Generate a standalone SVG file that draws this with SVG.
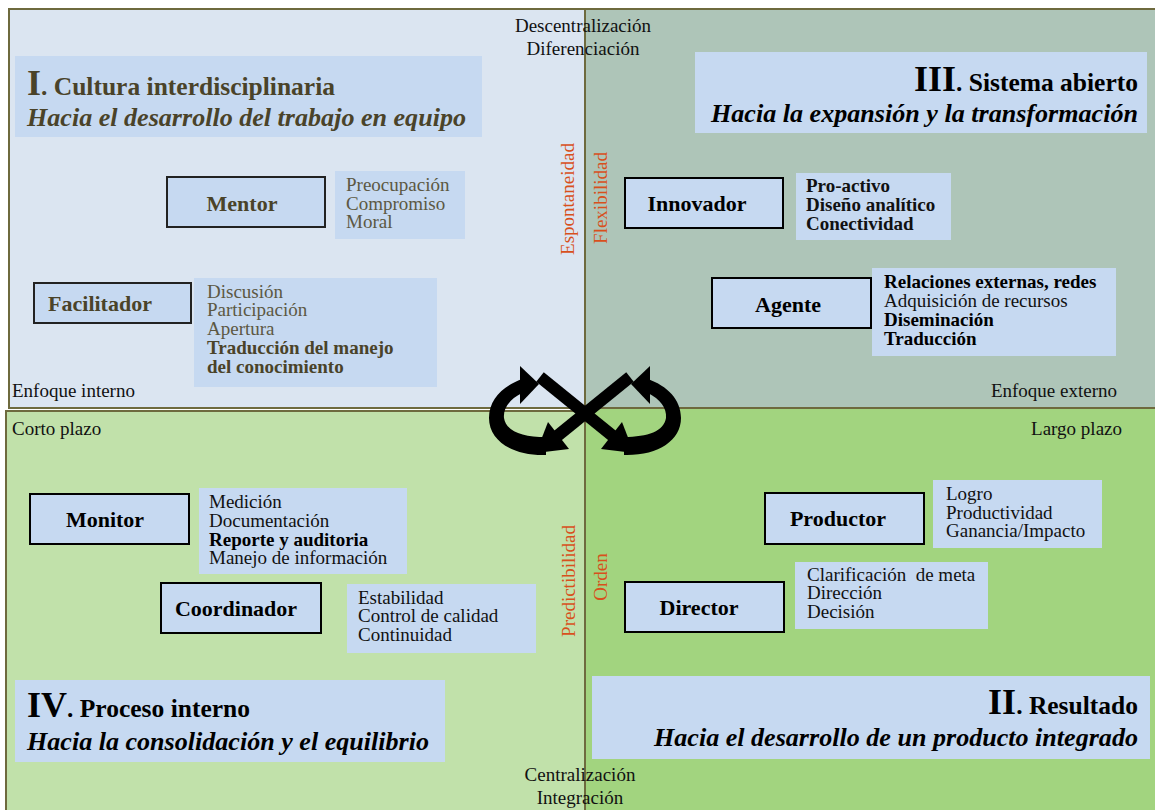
<svg xmlns="http://www.w3.org/2000/svg" width="1155" height="810" viewBox="0 0 1155 810">
<style>
text{font-family:"Liberation Serif","Times New Roman",serif;}
.quad{stroke:#6e6a3e;stroke-width:2;}
.tbox{fill:#c6d9f1;}
.node{fill:#c6d9f1;stroke:#000;stroke-width:2;}
.nl{font-size:22px;font-weight:bold;text-anchor:middle;fill:#000;}
.d{font-size:19px;fill:#111;}
.b{font-weight:bold;}
.ax{font-size:19px;fill:#111;}
.vr{font-size:19px;fill:#d8501c;text-anchor:middle;}
.q1{fill:#4a4329;}
.q1d{fill:#5c5843;}
.rn{font-size:36px;font-weight:bold;}
.tt{font-size:25.5px;font-weight:bold;}
.st{font-size:26px;font-weight:bold;font-style:italic;}
.arr{fill:#000;}
</style>
<g id="quadrants">
<rect id="q1" class="quad" x="9" y="9" width="576" height="399" fill="#dbe5f1"/>
<rect id="q3" class="quad" x="585" y="9" width="572" height="399" fill="#aec5b8"/>
<rect id="q4" class="quad" x="6" y="411" width="579" height="402" fill="#c1e1aa"/>
<rect id="q2" class="quad" x="585" y="408" width="572" height="405" fill="#a2d47f"/>
</g>
<g id="axis-labels">
<text class="ax" x="583" y="32" text-anchor="middle">Descentralización</text>
<text class="ax" x="583" y="55" text-anchor="middle">Diferenciación</text>
<text class="ax" x="580" y="781" text-anchor="middle">Centralización</text>
<text class="ax" x="580" y="804" text-anchor="middle">Integración</text>
<text class="ax" x="12" y="397">Enfoque interno</text>
<text class="ax" x="1117" y="397" text-anchor="end">Enfoque externo</text>
<text class="ax" x="12" y="435">Corto plazo</text>
<text class="ax" x="1122" y="435" text-anchor="end">Largo plazo</text>
<text class="vr" transform="translate(574,199) rotate(-90)">Espontaneidad</text>
<text class="vr" transform="translate(607,198) rotate(-90)">Flexibilidad</text>
<text class="vr" transform="translate(575,581) rotate(-90)">Predictibilidad</text>
<text class="vr" transform="translate(607,577) rotate(-90)">Orden</text>
</g>
<g id="title-I">
<rect class="tbox" x="15" y="56" width="467" height="81"/>
<text x="27" y="95" class="q1"><tspan class="rn">I</tspan><tspan class="tt">. Cultura interdisciplinaria</tspan></text>
<text x="27" y="126" class="st q1" textLength="439" lengthAdjust="spacingAndGlyphs">Hacia el desarrollo del trabajo en equipo</text>
</g>
<g id="title-III">
<rect class="tbox" x="695" y="52" width="452" height="81"/>
<text x="1138" y="91" text-anchor="end" fill="#000"><tspan class="rn">III</tspan><tspan class="tt">. Sistema abierto</tspan></text>
<text x="711" y="122" class="st" fill="#000" textLength="427" lengthAdjust="spacingAndGlyphs">Hacia la expansión y la transformación</text>
</g>
<g id="title-IV">
<rect class="tbox" x="15" y="680" width="430" height="82"/>
<text x="27" y="717" fill="#000"><tspan class="rn">IV</tspan><tspan class="tt">. Proceso interno</tspan></text>
<text x="27" y="750" class="st" fill="#000" textLength="402" lengthAdjust="spacingAndGlyphs">Hacia la consolidación y el equilibrio</text>
</g>
<g id="title-II">
<rect class="tbox" x="592" y="676" width="558" height="83"/>
<text x="1138" y="714" text-anchor="end" fill="#000"><tspan class="rn">II</tspan><tspan class="tt">. Resultado</tspan></text>
<text x="654" y="746" class="st" fill="#000" textLength="484" lengthAdjust="spacingAndGlyphs">Hacia el desarrollo de un producto integrado</text>
</g>
<g id="mentor">
<rect class="node" x="167" y="177" width="158" height="50" style="stroke:#222"/>
<text class="nl q1" x="242" y="211">Mentor</text>
<rect class="tbox" x="335" y="171" width="130" height="68"/>
<text class="d q1d"><tspan x="346" y="191">Preocupación</tspan><tspan x="346" y="210">Compromiso</tspan><tspan x="346" y="228">Moral</tspan></text>
</g>
<g id="facilitador">
<rect class="node" x="34" y="283" width="157" height="40" style="stroke:#222"/>
<text class="nl q1" x="100" y="311">Facilitador</text>
<rect class="tbox" x="194" y="278" width="243" height="109"/>
<text class="d q1d"><tspan x="207" y="298">Discusión</tspan><tspan x="207" y="316">Participación</tspan><tspan x="207" y="335">Apertura</tspan><tspan x="207" y="354" class="b q1">Traducción del manejo</tspan><tspan x="207" y="373" class="b q1">del conocimiento</tspan></text>
</g>
<g id="innovador">
<rect class="node" x="625" y="178" width="158" height="50"/>
<text class="nl" x="697" y="211">Innovador</text>
<rect class="tbox" x="796" y="173" width="155" height="67"/>
<text class="d b" fill="#000"><tspan x="806" y="192">Pro-activo</tspan><tspan x="806" y="211">Diseño analítico</tspan><tspan x="806" y="230">Conectividad</tspan></text>
</g>
<g id="agente">
<rect class="node" x="712" y="278" width="159" height="50"/>
<text class="nl" x="788" y="312">Agente</text>
<rect class="tbox" x="872" y="268" width="244" height="88"/>
<text class="d"><tspan x="884" y="288" class="b" fill="#000">Relaciones externas, redes</tspan><tspan x="884" y="307">Adquisición de recursos</tspan><tspan x="884" y="326" class="b" fill="#000">Diseminación</tspan><tspan x="884" y="345" class="b" fill="#000">Traducción</tspan></text>
</g>
<g id="monitor">
<rect class="node" x="30" y="494" width="159" height="50"/>
<text class="nl" x="105" y="527">Monitor</text>
<rect class="tbox" x="199" y="488" width="208" height="86"/>
<text class="d"><tspan x="209" y="508">Medición</tspan><tspan x="209" y="527">Documentación</tspan><tspan x="209" y="546" class="b" fill="#000">Reporte y auditoria</tspan><tspan x="209" y="564">Manejo de información</tspan></text>
</g>
<g id="coordinador">
<rect class="node" x="161" y="583" width="160" height="50"/>
<text class="nl" x="236" y="616">Coordinador</text>
<rect class="tbox" x="347" y="584" width="189" height="69"/>
<text class="d"><tspan x="358" y="604">Estabilidad</tspan><tspan x="358" y="622">Control de calidad</tspan><tspan x="358" y="641">Continuidad</tspan></text>
</g>
<g id="productor">
<rect class="node" x="765" y="493" width="159" height="51"/>
<text class="nl" x="838" y="526">Productor</text>
<rect class="tbox" x="933" y="480" width="169" height="68"/>
<text class="d"><tspan x="946" y="500">Logro</tspan><tspan x="946" y="519">Productividad</tspan><tspan x="946" y="537">Ganancia/Impacto</tspan></text>
</g>
<g id="director">
<rect class="node" x="625" y="582" width="159" height="50"/>
<text class="nl" x="699" y="615">Director</text>
<rect class="tbox" x="795" y="562" width="193" height="67"/>
<text class="d"><tspan x="807" y="581" xml:space="preserve">Clarificación  de meta</tspan><tspan x="807" y="599">Dirección</tspan><tspan x="807" y="618">Decisión</tspan></text>
</g>
<g id="connectors">
<g id="cycle-left">
<path class="arr" d="M546 455 C513 456 489 441 489 418 C489 399 503 386 522 379 L522 393 C510 399 503 408 504 418 C506 431 522 437 546 437 Z"/>
<polygon class="arr" points="520,366 539,384 520,404"/>
</g>
<g id="cycle-right">
<path class="arr" d="M624 455 C657 456 681 441 681 418 C681 399 667 386 648 379 L648 393 C660 399 667 408 666 418 C664 431 648 437 624 437 Z"/>
<polygon class="arr" points="650,366 631,384 650,404"/>
</g>
<g id="cross">
<line x1="540" y1="377" x2="614" y2="437" stroke="#000" stroke-width="12"/>
<polygon class="arr" points="634,453 601,449 622,422"/>
<line x1="630" y1="377" x2="556" y2="437" stroke="#000" stroke-width="12"/>
<polygon class="arr" points="536,453 569,449 548,422"/>
</g>
</g>
</svg>
